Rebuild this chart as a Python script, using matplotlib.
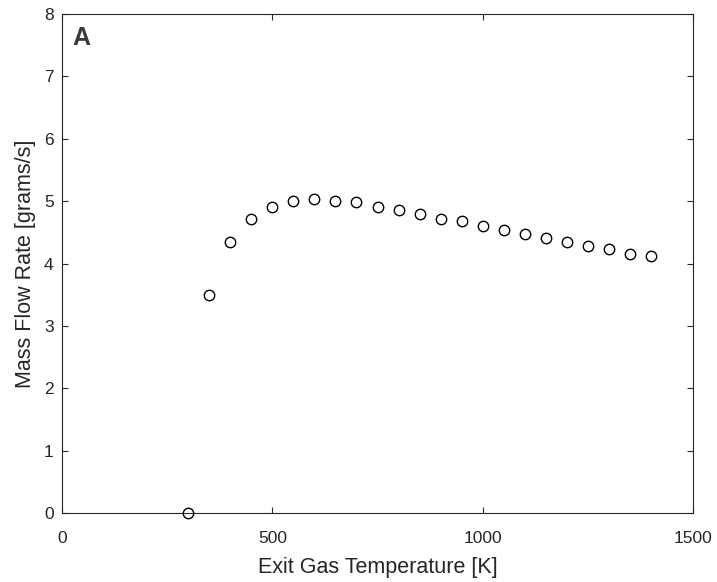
import numpy as np
import matplotlib.pyplot as plt

plt.rcParams['font.family'] = ['Liberation Sans', 'DejaVu Sans']

# exit gas temperature [K] and mass flow rate [grams/s]
temp_k = [300, 350, 400, 450, 500, 550, 600, 650, 700, 750, 800, 850,
          900, 950, 1000, 1050, 1100, 1150, 1200, 1250, 1300, 1350, 1400]
flow_gs = [0.0, 3.50, 4.35, 4.72, 4.91, 5.00, 5.03, 5.00, 4.98, 4.91, 4.86, 4.80,
           4.72, 4.68, 4.60, 4.54, 4.47, 4.41, 4.35, 4.28, 4.23, 4.16, 4.12]

fig = plt.figure(figsize=(7.17, 5.82), dpi=100)
ax = fig.add_axes([0.0865, 0.1186, 0.88, 0.8573])

grey = '#262626'
ax.plot(temp_k, flow_gs, linestyle='', marker='o', markersize=7.5,
        markerfacecolor='none', markeredgecolor='black', markeredgewidth=1.0,
        clip_on=False, zorder=3)

ax.set_xlim(0, 1500)
ax.set_ylim(0, 8)
ax.set_xticks([0, 500, 1000, 1500])
ax.set_yticks(range(0, 9))
ax.tick_params(direction='in', top=True, right=True, length=4, width=0.8,
               colors=grey, labelsize=12.5)
ax.tick_params(axis='x', pad=13)
ax.tick_params(axis='y', pad=6)
for sp in ax.spines.values():
    sp.set_color(grey)
    sp.set_linewidth(0.8)

ax.set_xlabel('Exit Gas Temperature [K]', fontsize=15.5, color=grey, labelpad=8)
ax.set_ylabel('Mass Flow Rate [grams/s]', fontsize=15.5, color=grey, labelpad=6)
ax.text(0.017, 0.975, 'A', transform=ax.transAxes, fontsize=18, fontweight='bold',
        color='#3a3a3a', va='top', ha='left')

fig.savefig('out.png', dpi=100)
